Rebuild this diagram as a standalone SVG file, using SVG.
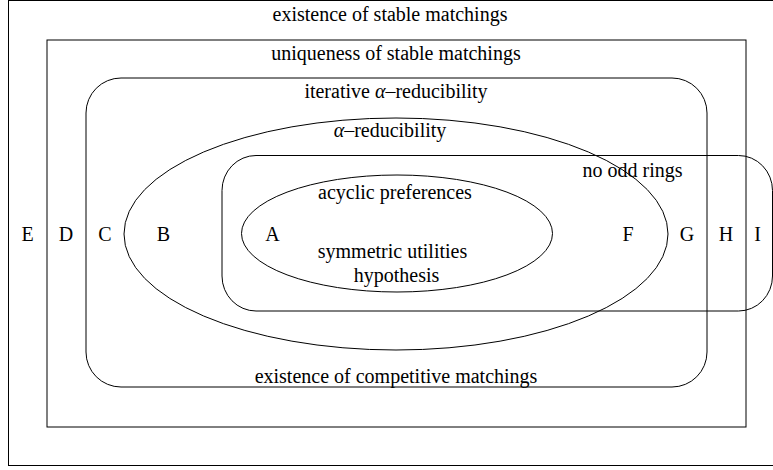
<svg xmlns="http://www.w3.org/2000/svg" width="773" height="470" viewBox="0 0 773 470">
<style>
.s{fill:none;stroke:#000;stroke-width:1}
.t{font-size:20px;fill:#000;text-anchor:middle}
.i{font-style:italic}
</style>
<rect width="773" height="470" fill="#fff"/>
<g font-family="'Liberation Serif', 'DejaVu Serif', 'Times New Roman', serif">
<g id="existence-stable">
<rect class="s" x="8.5" y="0.5" width="790" height="465"/>
<text class="t" x="390" y="21">existence of stable matchings</text>
<text class="t" x="27.5" y="241">E</text>
<text class="t" x="757.5" y="241">I</text>
</g>
<g id="uniqueness-stable">
<rect class="s" x="47" y="40" width="699" height="387"/>
<text class="t" x="396" y="60">uniqueness of stable matchings</text>
<text class="t" x="66" y="241">D</text>
<text class="t" x="726" y="241">H</text>
</g>
<g id="iterative-alpha">
<rect class="s" x="86" y="78" width="621" height="309" rx="35" ry="35"/>
<text class="t" x="396" y="98">iterative <tspan class="i">α</tspan>–reducibility</text>
<text class="t" x="396" y="383">existence of competitive matchings</text>
<text class="t" x="105" y="241">C</text>
<text class="t" x="687" y="241">G</text>
</g>
<g id="alpha-reducibility">
<ellipse class="s" cx="396" cy="234" rx="272" ry="116"/>
<text class="t" x="390" y="137"><tspan class="i">α</tspan>–reducibility</text>
<text class="t" x="163.5" y="241">B</text>
</g>
<g id="no-odd-rings">
<rect class="s" x="222" y="155.5" width="550.5" height="155.5" rx="34" ry="35"/>
<text class="t" x="632.5" y="177">no odd rings</text>
<text class="t" x="628" y="241">F</text>
</g>
<g id="acyclic">
<ellipse class="s" cx="397" cy="233.5" rx="155.5" ry="58.5"/>
<text class="t" x="395" y="199">acyclic preferences</text>
<text class="t" x="392.5" y="258">symmetric utilities</text>
<text class="t" x="396.5" y="282">hypothesis</text>
<text class="t" x="272.5" y="241">A</text>
</g>
</g>
<g id="connectors"/>
</svg>
